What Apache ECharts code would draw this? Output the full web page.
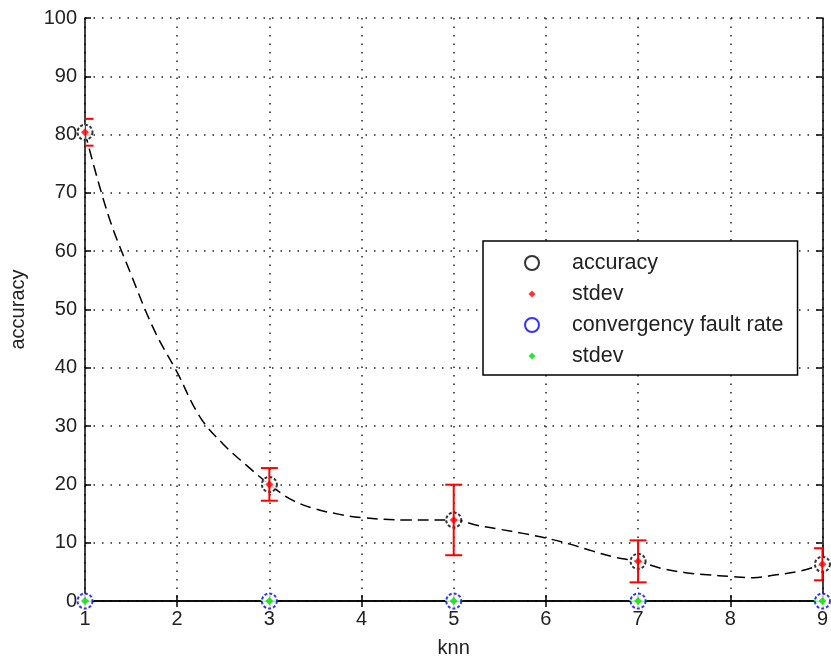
<!DOCTYPE html>
<html>
<head>
<meta charset="utf-8">
<script src="https://cdn.jsdelivr.net/npm/echarts@6/dist/echarts.min.js"></script>
<style>
html,body{margin:0;padding:0;background:#fff;}
#chart{width:831px;height:666px;}
</style>
</head>
<body>
<div id="chart"></div>
<script>
// knn values
const knn = [1, 3, 5, 7, 9];
// mean accuracy (%)
const accuracy = [80.4, 20.0, 13.9, 6.8, 6.3];
// standard deviation of accuracy
const accuracyStd = [2.3, 2.8, 6.05, 3.6, 2.75];
// convergency fault rate
const faultRate = [0, 0, 0, 0, 0];
const faultStd = [0, 0, 0, 0, 0];
// dashed fitted curve
const curveX = [1, 1.25, 1.5, 1.75, 2, 2.25, 2.5, 2.75, 3, 3.25, 3.5, 3.75, 4, 4.5, 5, 5.25, 5.5, 5.75, 6, 6.25, 6.5, 6.75, 7, 7.25, 7.5, 7.75, 8, 8.25, 8.5, 8.75, 9];
const curveY = [80.4, 66.3, 56.0, 46.5, 39.2, 31.5, 26.9, 23.3, 20.0, 17.3, 15.8, 14.9, 14.3, 13.9, 13.9, 13.0, 12.3, 11.6, 10.8, 9.8, 8.6, 7.5, 6.8, 5.6, 4.9, 4.5, 4.2, 4.0, 4.5, 5.1, 6.3];
// axis ticks
const xTicks = {min: 1, max: 9, step: 1};
const yTicks = {min: 0, max: 100, step: 10};

const FONT = 'Liberation Sans, Arial, sans-serif';
const chart = echarts.init(document.getElementById('chart'), null, {renderer: 'canvas'});

function errData(xs, ms, ss) {
  return xs.map((x, i) => [x, ms[i] - ss[i], ms[i] + ss[i]]);
}
function errRender(color) {
  return function (params, api) {
    const cs = params.coordSys;
    const left = cs.x, right = cs.x + cs.width;
    const x = api.value(0);
    const lo = api.coord([x, api.value(1)]);
    const hi = api.coord([x, api.value(2)]);
    const w = 8.5;
    const st = {stroke: color, lineWidth: 2};
    const a = Math.max(hi[0] - w, left), b = Math.min(hi[0] + w, right);
    return {
      type: 'group',
      children: [
        {type: 'line', shape: {x1: lo[0], y1: lo[1], x2: hi[0], y2: hi[1]}, style: st},
        {type: 'line', shape: {x1: a, y1: hi[1], x2: b, y2: hi[1]}, style: st},
        {type: 'line', shape: {x1: a, y1: lo[1], x2: b, y2: lo[1]}, style: st}
      ]
    };
  };
}
const smallDiamond = 'path://M0,0 M20,20 M10,5 L15,10 L10,15 L5,10 Z';

const splitStyle = {show: true, lineStyle: {color: '#222', width: 1.5, type: [1.5, 7]}};
const axisLineStyle = {show: true, lineStyle: {color: '#000', width: 1.5}};
const labelStyle = {color: '#222', fontSize: 20, fontFamily: FONT};

chart.setOption({
  animation: false,
  backgroundColor: '#fff',
  grid: {left: 85, right: 4, top: 18, bottom: 65, containLabel: false},
  xAxis: [{
    type: 'value', min: xTicks.min, max: xTicks.max, interval: xTicks.step,
    name: 'knn', nameLocation: 'middle', nameGap: 37,
    nameTextStyle: {color: '#222', fontSize: 20, fontFamily: FONT},
    axisLine: axisLineStyle,
    axisTick: {show: true, inside: true, length: 6, lineStyle: {color: '#000', width: 1.5}},
    axisLabel: Object.assign({margin: 8}, labelStyle),
    splitLine: splitStyle
  }, {
    type: 'value', position: 'top', min: xTicks.min, max: xTicks.max, interval: xTicks.step,
    axisLine: axisLineStyle,
    axisTick: {show: true, inside: true, length: 6, lineStyle: {color: '#000', width: 1.5}},
    axisLabel: {show: false}, splitLine: {show: false}
  }],
  yAxis: [{
    type: 'value', min: yTicks.min, max: yTicks.max, interval: yTicks.step,
    name: 'accuracy', nameLocation: 'middle', nameGap: 57,
    nameTextStyle: {color: '#222', fontSize: 20, fontFamily: FONT},
    axisLine: axisLineStyle,
    axisTick: {show: true, inside: true, length: 6, lineStyle: {color: '#000', width: 1.5}},
    axisLabel: Object.assign({margin: 8}, labelStyle),
    splitLine: splitStyle
  }, {
    type: 'value', position: 'right', min: yTicks.min, max: yTicks.max, interval: yTicks.step,
    axisLine: axisLineStyle,
    axisTick: {show: true, inside: true, length: 6, lineStyle: {color: '#000', width: 1.5}},
    axisLabel: {show: false}, splitLine: {show: false}
  }],
  legend: {
    orient: 'vertical', left: 483, top: 241,
    padding: [11, 14, 8, 41], itemGap: 9,
    itemWidth: 70, itemHeight: 14,
    backgroundColor: '#fff', borderColor: '#000', borderWidth: 1.5,
    textStyle: {color: '#222', fontSize: 21.5, fontFamily: FONT},
    formatter: function (name) { return name === 'stdev2' ? 'stdev' : name; },
    data: [
      {name: 'accuracy', icon: 'emptyCircle', itemStyle: {borderType: 'solid', borderWidth: 1.5}},
      {name: 'stdev', icon: smallDiamond},
      {name: 'convergency fault rate', icon: 'emptyCircle', itemStyle: {borderType: 'solid', borderWidth: 1.5}},
      {name: 'stdev2', icon: smallDiamond}
    ]
  },
  series: [
    {
      name: 'curve', type: 'line', smooth: 0.4, showSymbol: false, symbol: 'none',
      data: curveX.map((x, i) => [x, curveY[i]]),
      lineStyle: {color: '#000', width: 1.5, type: [11, 6]}, z: 2, silent: true
    },
    {
      name: 'accuracy', type: 'scatter', symbol: 'emptyCircle', symbolSize: 15,
      data: knn.map((x, i) => [x, accuracy[i]]),
      itemStyle: {color: '#000', borderColor: '#000', borderWidth: 1.5, borderType: [3, 2]}, z: 3
    },
    {
      name: 'stdevbars', type: 'custom', clip: true,
      data: errData(knn, accuracy, accuracyStd),
      renderItem: errRender('#ff0000'), z: 4, silent: true
    },
    {
      name: 'stdev', type: 'scatter', symbol: 'diamond', symbolSize: 8,
      data: knn.map((x, i) => [x, accuracy[i]]),
      itemStyle: {color: '#ff0000'}, z: 5
    },
    {
      name: 'convergency fault rate', type: 'scatter', symbol: 'emptyCircle', symbolSize: 15,
      data: knn.map((x, i) => [x, faultRate[i]]),
      itemStyle: {color: '#0000ff', borderColor: '#0000ff', borderWidth: 1.5, borderType: [3, 2]}, z: 6
    },
    {
      name: 'stdev2bars', type: 'custom', clip: true,
      data: errData(knn, faultRate, faultStd),
      renderItem: errRender('#00ff00'), z: 6, silent: true
    },
    {
      name: 'stdev2', type: 'scatter', symbol: 'diamond', symbolSize: 8,
      data: knn.map((x, i) => [x, faultRate[i]]),
      itemStyle: {color: '#00dd00'}, z: 7
    }
  ]
});
</script>
</body>
</html>
